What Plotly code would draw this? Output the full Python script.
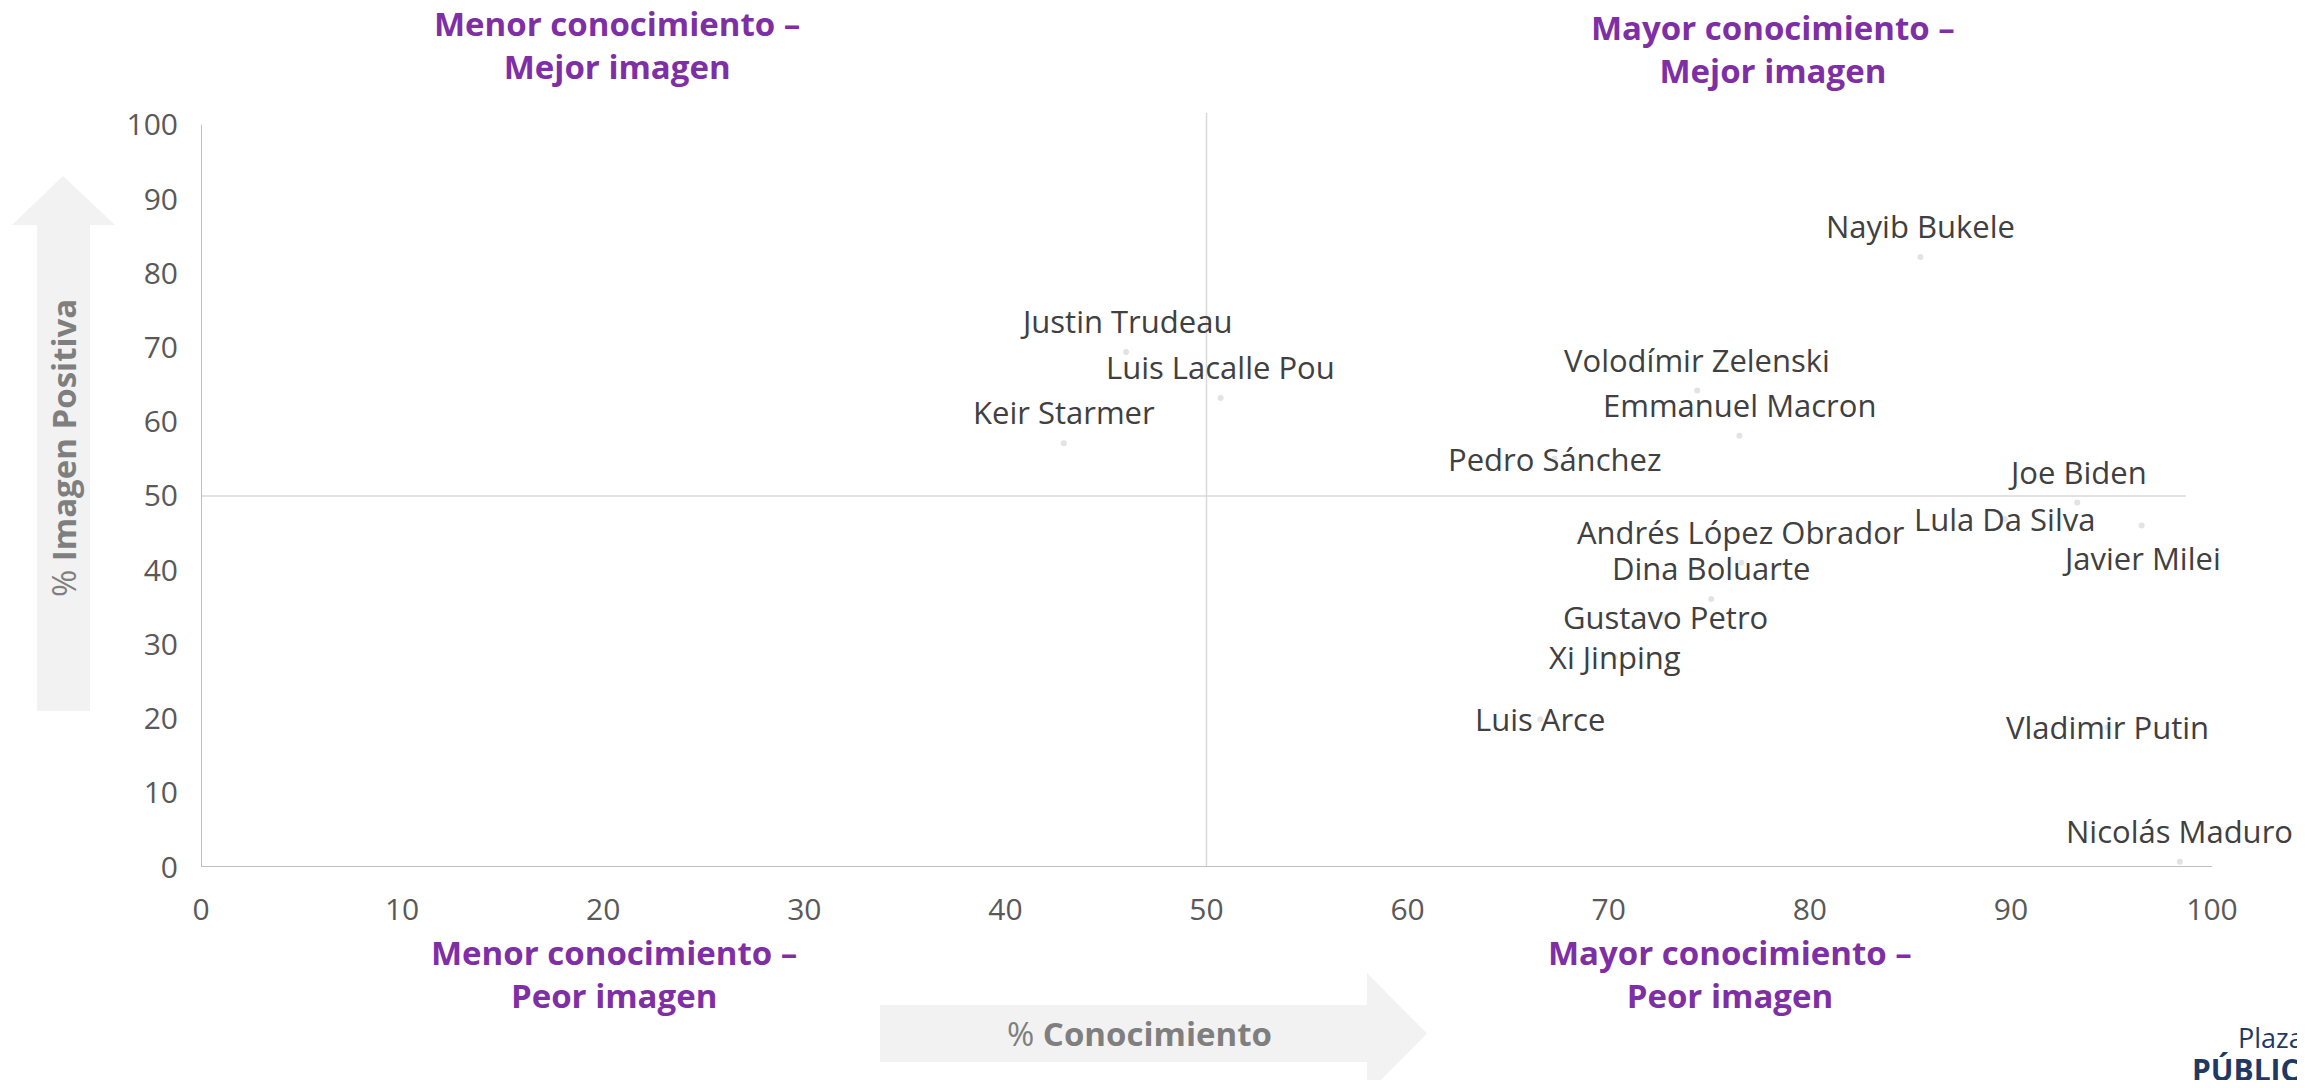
import plotly.graph_objects as go

# ---------------- data ----------------
names = ["Nayib Bukele", "Justin Trudeau", "Luis Lacalle Pou", "Keir Starmer",
         "Volodímir Zelenski", "Emmanuel Macron", "Pedro Sánchez", "Joe Biden",
         "Andrés López Obrador", "Lula Da Silva", "Javier Milei", "Dina Boluarte",
         "Gustavo Petro", "Xi Jinping", "Luis Arce", "Vladimir Putin", "Nicolás Maduro"]
conocimiento = [85.5, 46.0, 50.7, 42.9, 74.4, 76.5, 67.3, 93.3, 76.6, 89.7,
                96.5, 75.1, 72.8, 70.3, 66.6, 94.8, 98.4]
imagen = [82.2, 69.4, 63.2, 57.1, 64.2, 58.1, 55.0, 49.1, 41.0, 46.9,
          46.0, 36.1, 33.7, 28.3, 19.9, 18.8, 0.7]
label_pos = ["above", "above", "above", "above", "above", "above", "center", "above",
             "above", "center", "below", "above", "center", "center", "center",
             "center", "above"]

x_ticks = [0, 10, 20, 30, 40, 50, 60, 70, 80, 90, 100]
y_ticks = [0, 10, 20, 30, 40, 50, 60, 70, 80, 90, 100]

ref_x = 50          # vertical reference line
ref_y = 50          # horizontal reference line
ref_x_top = 101.6   # vertical line reaches slightly above 100
ref_y_end = 98.7    # horizontal line stops a little before 100

quadrants = [
    ("Menor conocimiento –<br>Mejor imagen", 617, 45),
    ("Mayor conocimiento –<br>Mejor imagen", 1773, 49),
    ("Menor conocimiento –<br>Peor imagen", 614, 974),
    ("Mayor conocimiento –<br>Peor imagen", 1730, 974),
]

# ---------------- layout geometry ----------------
PAGE_W, PAGE_H = 2305, 1088
OFF = 8                      # default body margin of the html page
W, H = PAGE_W - 2 * OFF, PAGE_H - 2 * OFF
# plot area in page pixels
L, R, T, B = 201, 2212, 113, 867
FONT = "Open Sans"
PURPLE = "#7f2fa6"


def px(xp):
    return (xp - L) / (R - L)


def py(yp):
    return (B - yp) / (B - T)


fig = go.Figure()

fig.add_trace(go.Scatter(
    x=conocimiento, y=imagen, mode="markers",
    marker=dict(size=6, color="#e3e3e3"),
    cliponaxis=False, hoverinfo="text", hovertext=names, showlegend=False,
))

shift = {"above": 31, "center": 0, "below": -32}
annotations = []
for n, xv, yv, p in zip(names, conocimiento, imagen, label_pos):
    annotations.append(dict(
        x=xv, y=yv, xref="x", yref="y", text=n, showarrow=False,
        xanchor="center", yanchor="middle", yshift=shift[p],
        font=dict(family=FONT, size=31, color="#404040"),
    ))

for txt, cx, cy in quadrants:
    annotations.append(dict(
        x=px(cx), y=py(cy), xref="paper", yref="paper", text=f"<b>{txt}</b>",
        showarrow=False, xanchor="center", yanchor="middle", align="center",
        font=dict(family=FONT, size=33, color=PURPLE),
    ))

# axis titles inside arrows
annotations.append(dict(
    x=px(1139), y=py(1033), xref="paper", yref="paper",
    text="% <b>Conocimiento</b>", showarrow=False, xanchor="center", yanchor="middle",
    font=dict(family=FONT, size=33, color="#7f7f7f"),
))
annotations.append(dict(
    x=px(63), y=py(448), xref="paper", yref="paper",
    text="% <b>Imagen Positiva</b>", showarrow=False, textangle=-90,
    xanchor="center", yanchor="middle",
    font=dict(family=FONT, size=33, color="#7f7f7f"),
))

# logo text (cut by the right edge)
annotations.append(dict(
    x=px(2236), y=py(1037), xref="paper", yref="paper", text="Plaza",
    showarrow=False, xanchor="left", yanchor="middle",
    font=dict(family=FONT, size=27, color="#1f3864"),
))
annotations.append(dict(
    x=px(2190), y=py(1069), xref="paper", yref="paper", text="<b>PÚBLICA</b>",
    showarrow=False, xanchor="left", yanchor="middle",
    font=dict(family=FONT, size=30, color="#1f3864"),
))


def path(points):
    return "M " + " L ".join(f"{px(a):.5f},{py(b):.5f}" for a, b in points) + " Z"


ARROW = "#f2f2f2"
shapes = [
    # y arrow (up)
    dict(type="path", xref="paper", yref="paper", layer="below", line=dict(width=0),
         fillcolor=ARROW,
         path=path([(37, 711), (37, 225), (12, 225), (63, 176), (115, 225),
                    (90, 225), (90, 711)])),
    # x arrow (right)
    dict(type="path", xref="paper", yref="paper", layer="below", line=dict(width=0),
         fillcolor=ARROW,
         path=path([(880, 1005), (1367, 1005), (1367, 973), (1427, 1033.5),
                    (1367, 1094), (1367, 1062), (880, 1062)])),
    # reference lines
    dict(type="line", xref="x", yref="y", x0=ref_x, x1=ref_x, y0=0, y1=ref_x_top,
         line=dict(color="#d9d9d9", width=1.5), layer="below"),
    dict(type="line", xref="x", yref="y", x0=0, x1=ref_y_end, y0=ref_y, y1=ref_y,
         line=dict(color="#d9d9d9", width=1.5), layer="below"),
    # axis lines
    dict(type="line", xref="x", yref="y", x0=0, x1=x_ticks[-1], y0=0, y1=0,
         line=dict(color="#bfbfbf", width=2)),
    dict(type="line", xref="x", yref="y", x0=0, x1=0, y0=0, y1=y_ticks[-1],
         line=dict(color="#bfbfbf", width=2)),
]

fig.update_layout(
    width=W, height=H,
    margin=dict(l=L - OFF, r=W - (R - OFF), t=T - OFF, b=H - (B - OFF), pad=0,
                autoexpand=False),
    paper_bgcolor="white", plot_bgcolor="white",
    xaxis=dict(range=[0, 100], tickvals=x_ticks, ticktext=[str(v) for v in x_ticks],
               showgrid=False, zeroline=False, showline=False, ticks="",
               ticklabelstandoff=22, automargin=False,
               tickfont=dict(family=FONT, size=30, color="#595959")),
    yaxis=dict(range=[0, ref_x_top], tickvals=y_ticks, ticktext=[str(v) for v in y_ticks],
               showgrid=False, zeroline=False, showline=False, ticks="",
               ticklabelstandoff=22, automargin=False,
               tickfont=dict(family=FONT, size=30, color="#595959")),
    annotations=annotations,
    shapes=shapes,
    showlegend=False,
)

fig.write_html("out.html")
